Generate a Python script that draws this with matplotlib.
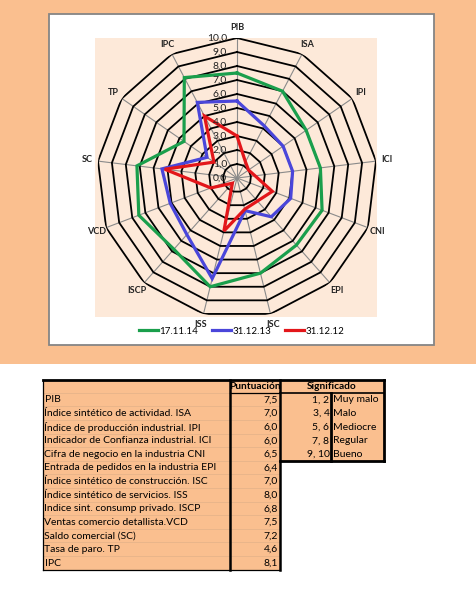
import numpy as np
import matplotlib
matplotlib.use('Agg')
import matplotlib.pyplot as plt
from matplotlib.patches import Rectangle
from matplotlib.lines import Line2D

plt.rcParams['font.family'] = ['Lato', 'DejaVu Sans']

# radar categories (clockwise from the top)
categories = ['PIB', 'ISA', 'IPI', 'ICI', 'CNI', 'EPI', 'ISC', 'ISS', 'ISCP', 'VCD', 'SC', 'TP', 'IPC']
series_names = ['17.11.14', '31.12.13', '31.12.12']
score_171114 = [7.5, 7.0, 6.0, 6.0, 6.5, 6.4, 7.0, 8.0, 6.8, 7.5, 7.2, 4.6, 8.1]
score_311213 = [5.5, 4.2, 4.0, 4.0, 4.1, 3.7, 2.4, 7.4, 5.4, 5.1, 5.4, 2.6, 6.1]
score_311212 = [3.0, 1.3, 1.0, 1.3, 2.7, 2.2, 2.3, 3.9, 0.5, 2.0, 5.2, 2.0, 5.0]
series_colors = ['#1a9f4c', '#4a46da', '#e3161a']
ring_values = [0, 1, 2, 3, 4, 5, 6, 7, 8, 9, 10]

# table below the chart
row_labels = [
    'PIB',
    'Índice sintético de actividad. ISA',
    'Índice de producción industrial. IPI',
    'Indicador de Confianza industrial. ICI',
    'Cifra de negocio en la industria CNI',
    'Entrada de pedidos en la industria EPI',
    'Índice sintético de construcción. ISC',
    'Índice sintético de servicios. ISS',
    'Indice sint. consump privado. ISCP',
    'Ventas comercio detallista.VCD',
    'Saldo comercial (SC)',
    'Tasa de paro. TP',
    'IPC',
]
sig_ranges = ['1, 2', '3, 4', '5, 6', '7, 8', '9, 10']
sig_labels = ['Muy malo', 'Malo', 'Mediocre', 'Regular', 'Bueno']

ORANGE = '#fabf8f'
PEACH = '#fde9d9'

W, H = 476, 593
fig = plt.figure(figsize=(W / 100, H / 100), dpi=100)

# background axes in pixel coordinates
bg = fig.add_axes([0, 0, 1, 1])
bg.set_xlim(0, W)
bg.set_ylim(H, 0)
bg.axis('off')
bg.add_patch(Rectangle((0, 0), W, 364, facecolor=ORANGE, edgecolor='none'))
bg.add_patch(Rectangle((48.5, 14), 385, 331, facecolor='white', edgecolor='#858585', lw=1.3))
bg.add_patch(Rectangle((95, 38), 282, 279, facecolor=PEACH, edgecolor='none'))

# ---- radar ----
cx, cy, R = 237, 178, 140
ax = fig.add_axes([(cx - R) / W, 1 - (cy + R) / H, 2 * R / W, 2 * R / H], projection='polar')
ax.set_theta_zero_location('N')
ax.set_theta_direction(-1)
ax.set_ylim(0, 10)
ax.set_facecolor('none')
ax.grid(False)
ax.spines['polar'].set_visible(False)
ax.set_xticks([])
ax.set_yticks([])

angles = np.linspace(0, 2 * np.pi, len(categories), endpoint=False)
closed = np.append(angles, angles[0])

for a in angles:
    ax.plot([a, a], [0, 10], color='#8a8a8a', lw=0.8, zorder=1)
for v in ring_values[1:]:
    ax.plot(closed, [v] * len(closed), color='black', lw=1.3, zorder=2)

for vals, col in zip([score_171114, score_311213, score_311212], series_colors):
    ax.plot(closed, list(vals) + [vals[0]], color=col, lw=2.3, zorder=3,
            solid_joinstyle='miter')

for v in ring_values:
    ax.annotate(f'{v:.1f}'.replace('.', ','), xy=(0, v), xytext=(-10, 0),
                textcoords='offset pixels', ha='right', va='center',
                fontsize=7.5, color='#222222', zorder=4)

for a, cat in zip(angles, categories):
    ax.text(a, 10.75, cat, ha='center', va='center', fontsize=6.5,
            fontweight='bold', color='#222222')

handles = [Line2D([], [], color=c, lw=2.3) for c in series_colors]
fig.legend(handles, series_names, loc='center', bbox_to_anchor=(241.5 / W, 1 - 331 / H),
           ncol=3, frameon=False, fontsize=7, handlelength=2.0, handletextpad=0.1,
           columnspacing=1.4)

# ---- table ----
x0, x1, x2, x3, x4 = 42.5, 229.5, 279.5, 331, 383.5
yh0, yh1 = 379.5, 392.7
rh = 13.6
n = len(row_labels)
yb = yh1 + n * rh

bg.add_patch(Rectangle((x0, yh0), x2 - x0, yb - yh0, facecolor=ORANGE, edgecolor='none'))
bg.add_patch(Rectangle((x2, yh0), x4 - x2, yh1 + len(sig_ranges) * rh - yh0,
                       facecolor=ORANGE, edgecolor='none'))

# thin row separators
for i in range(n + 1):
    y = yh1 + i * rh
    bg.plot([x0, x2], [y, y], color='#e6b48a', lw=0.6)
bg.plot([x0, x0], [yh0, yb], color='black', lw=0.9)
bg.plot([x0, x2], [yb, yb], color='black', lw=0.9)

# thick borders
ysig = yh1 + len(sig_ranges) * rh
bg.plot([x0, x4], [yh0, yh0], color='black', lw=2)
bg.plot([x1, x1], [yh0, yb], color='black', lw=1.8)
bg.plot([x2, x2], [yh0, yb], color='black', lw=1.8)
bg.plot([x4, x4], [yh0, ysig], color='black', lw=2)
bg.plot([x2, x4], [ysig, ysig], color='black', lw=2)
bg.plot([x2, x4], [yh1, yh1], color='black', lw=1.2)
bg.plot([x3, x3], [yh1, ysig], color='black', lw=2)
bg.plot([x1, x2], [yh1, yh1], color='black', lw=0.9)

bg.text((x1 + x2) / 2, (yh0 + yh1) / 2 + 0.5, 'Puntuación', ha='center', va='center',
        fontsize=7.3, fontweight='bold')
bg.text((x2 + x4) / 2, (yh0 + yh1) / 2 + 0.5, 'Significado', ha='center', va='center',
        fontsize=7.3, fontweight='bold')

for i, (lab, val) in enumerate(zip(row_labels, score_171114)):
    ym = yh1 + (i + 0.5) * rh + 0.5
    bg.text(x0 + 2, ym, lab, ha='left', va='center', fontsize=7.5)
    bg.text(x2 - 1.5, ym, f'{val:.1f}'.replace('.', ','), ha='right', va='center', fontsize=7.5)

for i, (rg, lab) in enumerate(zip(sig_ranges, sig_labels)):
    ym = yh1 + (i + 0.5) * rh + 0.5
    bg.text(x3 - 1.5, ym, rg, ha='right', va='center', fontsize=7.5)
    bg.text(x3 + 2, ym, lab, ha='left', va='center', fontsize=7.5)

fig.savefig('out.png', dpi=100)
